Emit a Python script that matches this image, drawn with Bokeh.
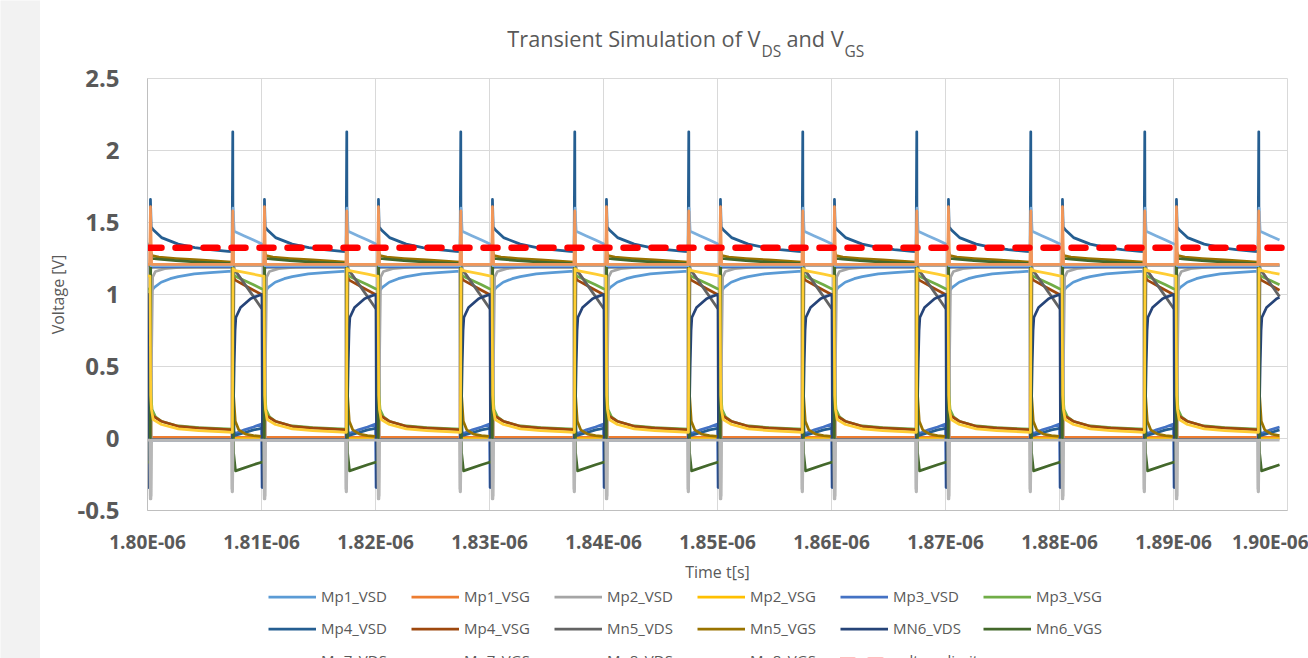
import numpy as np
from bokeh.plotting import figure
from bokeh.models import (Range1d, FixedTicker, CustomJSTickFormatter, Legend,
                          LegendItem, Label)
from bokeh.layouts import row, column
from bokeh.embed import file_html
from bokeh.resources import INLINE

T_START = 1.80e-6          # s
PERIOD_NS = 10.0
N_PERIODS = 10
T_LAST_NS = 99.3           # last sample of the record (~1.8993E-06 s)

x_ticks = [1.80e-6, 1.81e-6, 1.82e-6, 1.83e-6, 1.84e-6, 1.85e-6,
           1.86e-6, 1.87e-6, 1.88e-6, 1.89e-6, 1.90e-6]
y_ticks = [-0.5, 0, 0.5, 1, 1.5, 2, 2.5]

# time inside a period (ns) / voltage (V)
mp1_vsd_t = [0.0, 0.22, 0.28, 0.4, 0.6, 1.2, 2.0, 2.7, 4.1, 5.5, 7.1, 7.45, 7.5, 7.6, 9.3, 10.0]
mp1_vsd_v = [1.2, 1.2, 1.03, 1.03, 1.05, 1.085, 1.11, 1.124, 1.143, 1.152, 1.16, 1.16, 1.2, 1.2, 1.2, 1.2]

mp1_vsg_t = [0.0, 0.2, 0.26, 0.32, 7.42, 7.48, 7.54, 9.3, 10.0]
mp1_vsg_v = [0.008, 0.008, 1.6, 0.008, 0.008, 1.58, 0.008, 0.008, 0.008]

mp2_vsd_t = [0.0, 0.2, 0.25, 0.3, 0.36, 0.45, 0.7, 1.5, 3.0, 5.0, 7.38, 7.42, 7.46, 7.52, 7.62, 9.3, 10.0]
mp2_vsd_v = [1.2, 1.2, -0.4, -0.4, 0.6, 1.12, 1.16, 1.18, 1.19, 1.195, 1.2, -0.35, -0.35, 0.6, 1.2, 1.2, 1.2]

mp2_vsg_t = [0.0, 0.24, 0.28, 7.46, 7.5, 9.3, 10.0]
mp2_vsg_v = [0.0, 0.0, 1.19, 1.19, 0.0, 0.0, 0.0]

mp3_vsd_t = [0.0, 0.05, 0.12, 0.28, 0.4, 7.46, 7.52, 7.7, 8.5, 9.3, 10.0]
mp3_vsd_v = [0.10, -0.34, -0.1, 1.18, 1.19, 1.19, 0.05, 0.035, 0.06, 0.08, 0.10]

mp3_vsg_t = [0.0, 0.2, 0.3, 0.4, 0.7, 1.2, 2.5, 4.5, 7.45, 7.5, 7.6, 9.3, 10.0]
mp3_vsg_v = [1.04, 1.035, 0.3, 0.2, 0.15, 0.12, 0.09, 0.075, 0.065, 1.15, 1.13, 1.068, 1.04]

mp4_vsd_t = [0.0, 0.2, 0.26, 0.32, 0.5, 1.23, 2.69, 4.15, 5.5, 7.08, 7.42, 7.48, 7.52, 7.6, 8.5, 9.3, 10.0]
mp4_vsd_v = [0.07, 0.07, 1.66, 1.47, 1.45, 1.395, 1.35, 1.326, 1.312, 1.30, 1.298, 2.13, 0.3, 0.02, 0.04, 0.06, 0.07]

mp4_vsg_t = [0.0, 0.2, 0.28, 0.35, 0.5, 1.2, 2.7, 4.2, 7.1, 7.45, 7.5, 7.7, 9.3, 10.0]
mp4_vsg_v = [1.0, 1.0, 0.22, 0.18, 0.155, 0.12, 0.085, 0.074, 0.062, 0.06, 1.12, 1.1, 1.03, 1.0]

mn5_vds_t = [0.0, 0.15, 0.25, 0.4, 7.45, 7.5, 7.7, 9.3, 10.0]
mn5_vds_v = [0.905, 0.9, 0.0, -0.01, -0.01, 1.18, 1.166, 0.985, 0.905]

mn5_vgs_t = [0.0, 0.22, 0.28, 0.4, 1.0, 2.5, 4.5, 7.4, 7.47, 7.52, 7.55, 7.7, 8.0, 8.6, 9.3, 10.0]
mn5_vgs_v = [0.015, 0.015, 1.3, 1.27, 1.26, 1.25, 1.24, 1.225, 1.22, 0.45, 0.3, 0.12, 0.06, 0.03, 0.02, 0.015]

mn6_vds_t = [0.0, 0.04, 0.1, 0.2, 0.4, 7.45, 7.5, 7.6, 7.68, 7.75, 8.16, 9.04, 9.3, 10.0]
mn6_vds_v = [1.0, 1.0, -0.34, -0.05, -0.01, -0.01, 0.05, 0.5, 0.75, 0.84, 0.91, 0.97, 0.98, 1.0]

mn6_vgs_t = [0.0, 0.22, 0.28, 0.4, 1.0, 2.5, 4.5, 7.4, 7.47, 7.55, 7.72, 9.3, 10.0]
mn6_vgs_v = [-0.165, -0.163, 1.28, 1.25, 1.245, 1.235, 1.225, 1.215, 1.21, -0.1, -0.225, -0.182, -0.165]

mn7_vds_t = [0.0, 0.22, 0.3, 7.45, 7.5, 7.6, 8.5, 9.3, 10.0]
mn7_vds_v = [1.352, 1.345, 1.2, 1.2, 1.6, 1.44, 1.407, 1.378, 1.352]

mn7_vgs_t = [0.0, 0.18, 0.26, 0.36, 7.40, 7.48, 7.56, 9.3, 10.0]
mn7_vgs_v = [1.21, 1.21, 1.61, 1.21, 1.21, 1.58, 1.21, 1.21, 1.21]

mn8_vds_t = [0.0, 0.2, 0.24, 0.3, 0.36, 7.38, 7.42, 7.46, 7.52, 9.3, 10.0]
mn8_vds_v = [-0.012, -0.012, -0.42, -0.42, -0.012, -0.012, -0.37, -0.37, -0.012, -0.012, -0.012]

mn8_vgs_t = [0.0, 0.22, 0.28, 0.35, 0.5, 1.23, 2.7, 4.5, 7.1, 7.45, 7.5, 7.7, 9.3, 10.0]
mn8_vgs_v = [1.13, 1.128, 0.3, 0.2, 0.131, 0.097, 0.067, 0.055, 0.044, 0.043, 1.18, 1.166, 1.141, 1.13]

limit_t = [1.80e-6, 1.90e-6]
limit_v = [1.324, 1.324]

names = ["Mp1_VSD", "Mp1_VSG", "Mp2_VSD", "Mp2_VSG", "Mp3_VSD", "Mp3_VSG",
         "Mp4_VSD", "Mp4_VSG", "Mn5_VDS", "Mn5_VGS", "MN6_VDS", "Mn6_VGS",
         "Mn7_VDS", "Mn7_VGS", "Mn8_VDS", "Mn8_VGS"]
colors = ["#5B9BD5", "#ED7D31", "#A5A5A5", "#FFC000", "#4472C4", "#70AD47",
          "#255E91", "#9E480E", "#636363", "#997300", "#264478", "#43682B",
          "#7CAFDD", "#F1975A", "#B7B7B7", "#FFCD33"]
waves = [(mp1_vsd_t, mp1_vsd_v), (mp1_vsg_t, mp1_vsg_v), (mp2_vsd_t, mp2_vsd_v),
         (mp2_vsg_t, mp2_vsg_v), (mp3_vsd_t, mp3_vsd_v), (mp3_vsg_t, mp3_vsg_v),
         (mp4_vsd_t, mp4_vsd_v), (mp4_vsg_t, mp4_vsg_v), (mn5_vds_t, mn5_vds_v),
         (mn5_vgs_t, mn5_vgs_v), (mn6_vds_t, mn6_vds_v), (mn6_vgs_t, mn6_vgs_v),
         (mn7_vds_t, mn7_vds_v), (mn7_vgs_t, mn7_vgs_v), (mn8_vds_t, mn8_vds_v),
         (mn8_vgs_t, mn8_vgs_v)]


def periodic(t_list, v_list):
    xs, ys = [], []
    for k in range(N_PERIODS):
        for t, v in zip(t_list, v_list):
            tt = k * PERIOD_NS + t
            if tt <= T_LAST_NS:
                xs.append(T_START + tt * 1e-9)
                ys.append(v)
    return xs, ys


FONT = "Open Sans"
GREY = "#595959"
LW = 2.75
FRAME_L, FRAME_R = 147, 1287      # page x of the plot frame (shared by all strips)
TITLE_H = 63

# ---------------- title strip (page pixel coordinates) ----------------
tf = figure(width=1268, height=TITLE_H, x_range=Range1d(FRAME_L, FRAME_R),
            y_range=Range1d(TITLE_H, 0), title=None,
            output_backend="svg", toolbar_location=None, x_axis_type=None,
            y_axis_type=None, min_border=0, outline_line_color=None,
            background_fill_color="white", border_fill_color="white")
tf.grid.visible = False
title_parts = [
    ("Transient Simulation of V", 760.0, 38.3, "21.7px", "right"),
    ("DS", 761.0, 50.5, "15.5px", "left"),
    ("and V", 786.0, 38.3, "21.7px", "left"),
    ("GS", 844.0, 50.5, "15.5px", "left"),
]
for txt, px, py, fs, al in title_parts:
    tf.add_layout(Label(x=px, y=py, text=txt, text_font=FONT, text_font_size=fs,
                        text_color=GREY, text_align=al, text_baseline="alphabetic"))

# ---------------- main plot ----------------
p = figure(width=1268, height=585 - TITLE_H, x_range=Range1d(1.80e-6, 1.90e-6),
           y_range=Range1d(-0.5, 2.5), title=None, output_backend="svg",
           toolbar_location=None,
           min_border_left=107, min_border_right=21, min_border_top=78 - TITLE_H,
           min_border_bottom=73, background_fill_color="white",
           border_fill_color="white", outline_line_color="#D9D9D9")

for name, col, (tl, vl) in zip(names, colors, waves):
    xs, ys = periodic(tl, vl)
    p.line(xs, ys, line_color=col, line_width=LW, line_join="round")

p.line(limit_t, limit_v, line_color="#FF0000", line_width=6.5,
       line_dash="14 14", line_cap="round")

p.xaxis.ticker = FixedTicker(ticks=x_ticks)
p.yaxis.ticker = FixedTicker(ticks=y_ticks)
p.xaxis.formatter = CustomJSTickFormatter(code="""
const s = tick.toExponential(2);
const parts = s.split('e');
const e = parseInt(parts[1]);
return parts[0] + 'E' + (e < 0 ? '-' : '+') + String(Math.abs(e)).padStart(2, '0');
""")
p.yaxis.formatter = CustomJSTickFormatter(code="return String(Math.round(tick*10)/10);")
for ax in (p.xaxis, p.yaxis):
    ax.major_tick_out = 0
    ax.major_tick_in = 0
    ax.minor_tick_out = 0
    ax.minor_tick_in = 0
    ax.axis_line_color = "#BFBFBF"
    ax.major_label_text_font = FONT
    ax.major_label_text_font_style = "bold"
    ax.major_label_text_color = GREY
    ax.axis_label_text_font = FONT
    ax.axis_label_text_font_style = "normal"
    ax.axis_label_text_color = GREY
    ax.axis_label_text_font_size = "16px"
p.xaxis.major_label_text_font_size = "19px"
p.yaxis.major_label_text_font_size = "24px"
p.xaxis.major_label_standoff = 18
p.yaxis.major_label_standoff = 28
p.xaxis.axis_label = "Time t[s]"
p.yaxis.axis_label = "Voltage [V]"
p.xaxis.axis_label_standoff = 3
p.yaxis.axis_label_standoff = 5

p.xgrid.ticker = FixedTicker(ticks=x_ticks)
p.ygrid.ticker = FixedTicker(ticks=y_ticks)
p.grid.grid_line_color = "#D9D9D9"
p.grid.grid_line_width = 1

# ---------------- legend strip ----------------
lf = figure(width=1268, height=73, x_range=Range1d(FRAME_L, FRAME_R),
            y_range=Range1d(658, 585), title=None,
            output_backend="svg", toolbar_location=None, x_axis_type=None,
            y_axis_type=None, min_border=0, outline_line_color=None,
            background_fill_color="white", border_fill_color="white")
lf.grid.visible = False
nan = float("nan")
leg_renderers = []
for col in colors:
    leg_renderers.append(lf.line(x=[nan], y=[nan], line_color=col, line_width=LW))
leg_renderers.append(lf.line(x=[nan], y=[nan], line_color="#FF0000", line_width=6.5,
                             line_dash="14 14", line_cap="round"))
names_all = names + ["voltage limit"]

rows_idx = [list(range(0, 6)), list(range(6, 12)), list(range(12, 17))]
row_bottom = [47.5, 15.5, -16.5]
for idxs, lb in zip(rows_idx, row_bottom):
    items = [LegendItem(label=names_all[i], renderers=[leg_renderers[i]]) for i in idxs]
    lg = Legend(items=items, orientation="horizontal", location=(268 - FRAME_L, lb),
                glyph_width=48, glyph_height=29, label_height=29, label_width=87,
                label_standoff=5, spacing=3, padding=0, margin=0,
                border_line_color=None, background_fill_alpha=0,
                label_text_font=FONT, label_text_font_size="15px",
                label_text_color=GREY)
    lf.add_layout(lg, "center")

# ---------------- grey strip on the left ----------------
sp = figure(width=40, height=658, title=None, toolbar_location=None, output_backend="svg",
            x_axis_type=None, y_axis_type=None, min_border=0,
            outline_line_color=None, background_fill_color="#F2F2F2",
            border_fill_color="#F2F2F2")
sp.grid.visible = False

layout = row(sp, column(tf, p, lf, spacing=0), spacing=0)
open("out.html", "w").write(file_html(layout, INLINE))
